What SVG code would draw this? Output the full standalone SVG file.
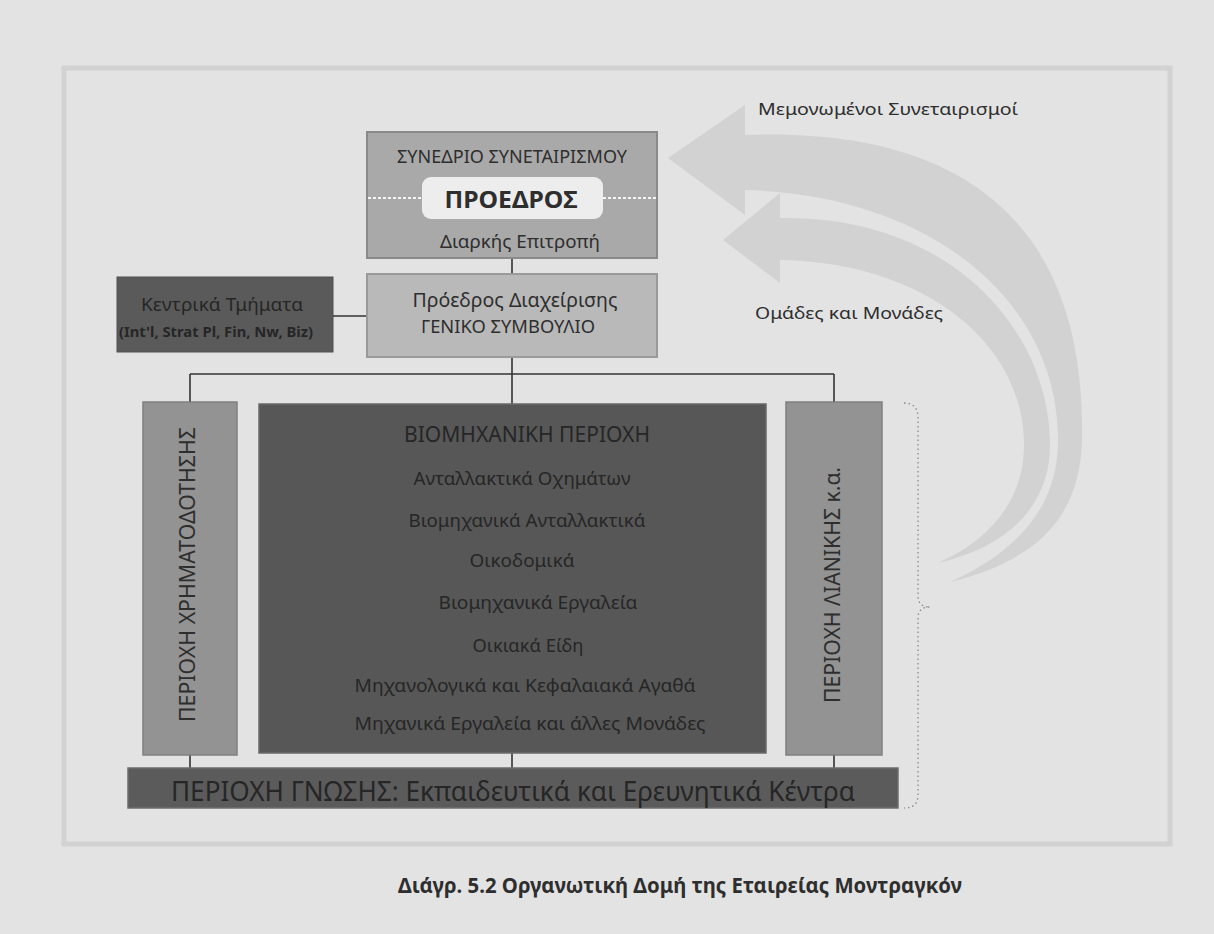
<svg xmlns="http://www.w3.org/2000/svg" width="1214" height="934" viewBox="0 0 1214 934">
<style>
text{font-family:"Noto Sans","Open Sans","DejaVu Sans",sans-serif;text-anchor:middle;fill:#2e2e2e}
.b{font-weight:bold}
.d{fill:#262626}
.conn line{stroke:#333;stroke-width:1.6}
.arrow{fill:#d2d2d2}
</style>
<rect x="0" y="0" width="1214" height="934" fill="#e3e3e3"/>
<rect x="64" y="68" width="1106" height="776" fill="none" stroke="#d2d2d2" stroke-width="5"/>

<g id="arrows">
<path class="arrow" d="M668,158 L745,105 L745,135 C1020,125 1085,280 1082,440 C1080,515 1040,560 950,582 C1020,550 1058,505 1058,440 C1058,300 930,195 745,190 L745,215 Z"/>
<path class="arrow" d="M723,240 L780,193 L780,218 C950,215 1050,330 1050,445 C1050,500 1015,545 938,563 C990,540 1024,500 1024,445 C1024,340 920,262 780,260 L780,283 Z"/>
</g>
<text x="888" y="115" font-size="16.5" textLength="260" lengthAdjust="spacingAndGlyphs">Μεμονωμένοι Συνεταιρισμοί</text>
<text x="849" y="319" font-size="16.5" textLength="188" lengthAdjust="spacingAndGlyphs">Ομάδες και Μονάδες</text>

<g class="conn" id="connectors">
<line x1="512" y1="258" x2="512" y2="274"/>
<line x1="333" y1="316" x2="367" y2="316"/>
<line x1="512" y1="357" x2="512" y2="404"/>
<line x1="190" y1="374" x2="834" y2="374"/>
<line x1="190" y1="374" x2="190" y2="402"/>
<line x1="834" y1="374" x2="834" y2="402"/>
<line x1="190" y1="755" x2="190" y2="768"/>
<line x1="512" y1="753" x2="512" y2="768"/>
<line x1="834" y1="755" x2="834" y2="768"/>
</g>

<g id="synedrio">
<rect x="367" y="132" width="290" height="126" fill="#a9a9a9" stroke="#8a8a8a" stroke-width="2"/>
<line x1="368" y1="198" x2="656" y2="198" stroke="#f4f4f4" stroke-width="2" stroke-dasharray="3,2"/>
<text x="512" y="163" font-size="17.5" textLength="230" lengthAdjust="spacingAndGlyphs">ΣΥΝΕΔΡΙΟ ΣΥΝΕΤΑΙΡΙΣΜΟΥ</text>
<rect x="422" y="177" width="181" height="42" rx="9" fill="#ededed"/>
<text class="b" x="511" y="208" font-size="23" textLength="133" lengthAdjust="spacingAndGlyphs" fill="#1e1e1e">ΠΡΟΕΔΡΟΣ</text>
<text x="520" y="248" font-size="17.5" textLength="160" lengthAdjust="spacingAndGlyphs">Διαρκής Επιτροπή</text>
</g>

<g id="genikoSymvoulio">
<rect x="367" y="274" width="290" height="83" fill="#b9b9b9" stroke="#9a9a9a" stroke-width="2"/>
<text x="515" y="307" font-size="19" textLength="205" lengthAdjust="spacingAndGlyphs">Πρόεδρος Διαχείρισης</text>
<text x="508" y="333" font-size="18.5" textLength="174" lengthAdjust="spacingAndGlyphs">ΓΕΝΙΚΟ ΣΥΜΒΟΥΛΙΟ</text>
</g>

<g id="kentrika">
<rect x="117" y="277" width="216" height="75" fill="#5a5a5a" stroke="#505050" stroke-width="1"/>
<text class="d" x="222" y="311" font-size="17.5" textLength="162" lengthAdjust="spacingAndGlyphs">Κεντρικά Τμήματα</text>
<text class="b d" x="216" y="337" font-size="13.5" textLength="194" lengthAdjust="spacingAndGlyphs">(Int'l, Strat Pl, Fin, Nw, Biz)</text>
</g>

<g id="xrimatodotisi">
<rect x="143" y="402" width="94" height="353" fill="#939393" stroke="#808080" stroke-width="1.5"/>
<text transform="translate(195,574.5) rotate(-90)" x="0" y="0" font-size="21.5" textLength="295" lengthAdjust="spacingAndGlyphs">ΠΕΡΙΟΧΗ ΧΡΗΜΑΤΟΔΟΤΗΣΗΣ</text>
</g>

<g id="viomixaniki">
<rect x="259" y="404" width="507" height="349" fill="#575757" stroke="#6a6a6a" stroke-width="1.5"/>
<text class="d" x="527" y="442" font-size="21" textLength="246" lengthAdjust="spacingAndGlyphs">ΒΙΟΜΗΧΑΝΙΚΗ ΠΕΡΙΟΧΗ</text>
<text class="d" x="522" y="485" font-size="18" textLength="217" lengthAdjust="spacingAndGlyphs">Ανταλλακτικά Οχημάτων</text>
<text class="d" x="527" y="527" font-size="18" textLength="237" lengthAdjust="spacingAndGlyphs">Βιομηχανικά Ανταλλακτικά</text>
<text class="d" x="522" y="567" font-size="18" textLength="105" lengthAdjust="spacingAndGlyphs">Οικοδομικά</text>
<text class="d" x="538" y="609" font-size="18" textLength="199" lengthAdjust="spacingAndGlyphs">Βιομηχανικά Εργαλεία</text>
<text class="d" x="528" y="652" font-size="18" textLength="111" lengthAdjust="spacingAndGlyphs">Οικιακά Είδη</text>
<text class="d" x="525" y="692" font-size="18" textLength="341" lengthAdjust="spacingAndGlyphs">Μηχανολογικά και Κεφαλαιακά Αγαθά</text>
<text class="d" x="530" y="730" font-size="18" textLength="351" lengthAdjust="spacingAndGlyphs">Μηχανικά Εργαλεία και άλλες Μονάδες</text>
</g>

<g id="lianiki">
<rect x="786" y="402" width="96" height="353" fill="#939393" stroke="#808080" stroke-width="1.5"/>
<text transform="translate(840,585) rotate(-90)" x="0" y="0" font-size="21.5" textLength="236" lengthAdjust="spacingAndGlyphs">ΠΕΡΙΟΧΗ ΛΙΑΝΙΚΗΣ κ.α.</text>
</g>

<g id="gnosi">
<rect x="128" y="768" width="770" height="40" fill="#5b5b5b" stroke="#6e6e6e" stroke-width="1.5"/>
<text class="d" x="513" y="801" font-size="27" textLength="684" lengthAdjust="spacingAndGlyphs">ΠΕΡΙΟΧΗ ΓΝΩΣΗΣ: Εκπαιδευτικά και Ερευνητικά Κέντρα</text>
</g>

<g id="brace">
<path d="M904,403 Q918,403 918,418 L918,596 Q918,607 930,607 Q918,607 918,618 L918,795 Q918,808 904,808" fill="none" stroke="#8a8a8a" stroke-width="1.3" stroke-dasharray="1.5,3"/>
</g>

<text class="b" x="680" y="893" font-size="22" textLength="564" lengthAdjust="spacingAndGlyphs" fill="#1e1e1e">Διάγρ. 5.2 Οργανωτική Δομή της Εταιρείας Μοντραγκόν</text>
</svg>
